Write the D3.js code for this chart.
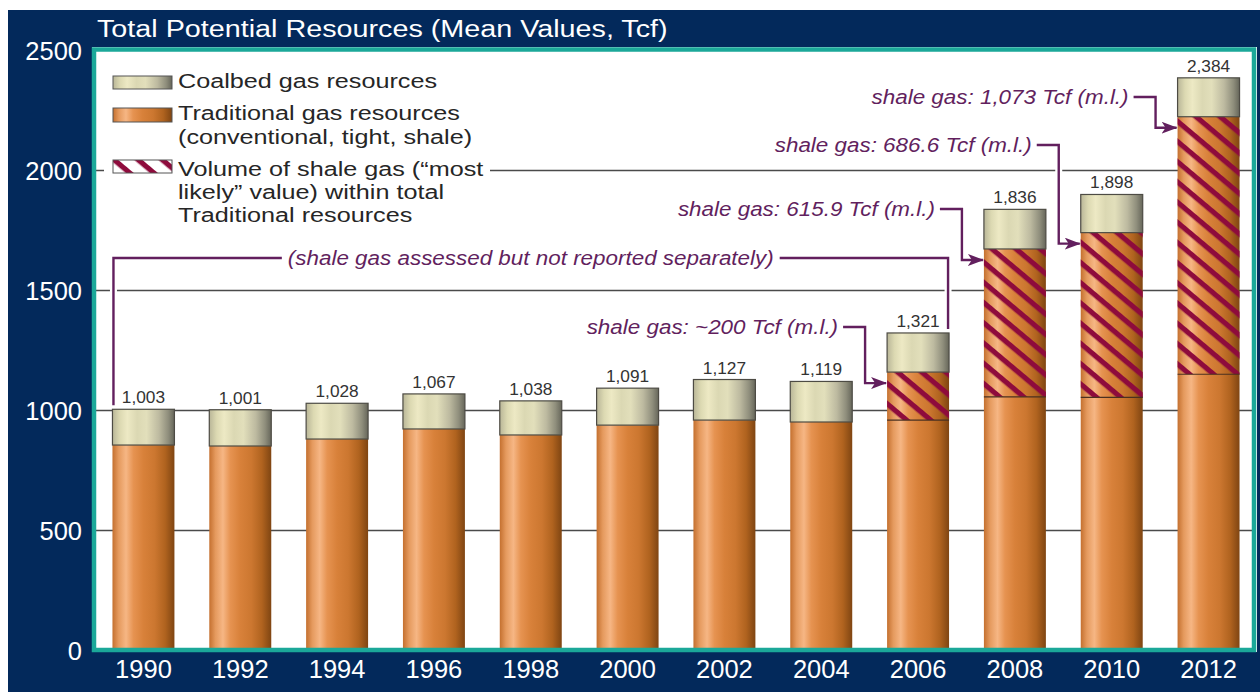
<!DOCTYPE html>
<html>
<head>
<meta charset="utf-8">
<script src="https://cdn.jsdelivr.net/npm/d3@7"></script>
<style>
  html, body { margin: 0; padding: 0; background: #ffffff; }
  svg { display: block; font-family: "Liberation Sans", Arial, Helvetica, sans-serif; }
</style>
</head>
<body>
<script>
// ---------------- data ----------------
const years = ["1990","1992","1994","1996","1998","2000","2002","2004","2006","2008","2010","2012"];
const totalValues = [1003, 1001, 1028, 1067, 1038, 1091, 1127, 1119, 1321, 1836, 1898, 2384];
const traditionalValues = [854, 850, 879, 921, 896, 937, 958, 950, 1158, 1671, 1739, 2222];
const shaleValues = [0, 0, 0, 0, 0, 0, 0, 0, 200, 615.9, 686.6, 1073];
const totalLabels = ["1,003","1,001","1,028","1,067","1,038","1,091","1,127","1,119","1,321","1,836","1,898","2,384"];
const yTickValues = [0, 500, 1000, 1500, 2000, 2500];
const gridValues = [500, 1000, 1500, 2000];
const noteYears = ["2006", "2008", "2010", "2012"];
const noteLabels = ["shale gas: ~200 Tcf (m.l.)", "shale gas: 615.9 Tcf (m.l.)", "shale gas: 686.6 Tcf (m.l.)", "shale gas: 1,073 Tcf (m.l.)"];
const bracketYears = ["1990", "2006"];
const bracketLabel = "(shale gas assessed but not reported separately)";
const legendLabels = [
  ["Coalbed gas resources"],
  ["Traditional gas resources", "(conventional, tight, shale)"],
  ["Volume of shale gas (\u201cmost", "likely\u201d value) within total", "Traditional resources"]
];
const titleText = "Total Potential Resources (Mean Values, Tcf)";

// ---------------- layout ----------------
const W = 1260, H = 692;
const NAVY = "#03295b", TEAL = "#1ba899", PURPLE = "#621f5e", HATCH = "#8e0b3c";
const noteLineY = [327, 209, 145, 97];   // vertical placement of annotation texts
const bracketTopY = 258;

const svg = d3.select("body").append("svg").attr("width", W).attr("height", H);
const defs = svg.append("defs");

// gradients
function hGrad(id, stops) {
  const g = defs.append("linearGradient").attr("id", id).attr("x1", 0).attr("x2", 1).attr("y1", 0).attr("y2", 0);
  stops.forEach(s => g.append("stop").attr("offset", s[0]).attr("stop-color", s[1]));
}
hGrad("copper", [[0, "#c4702f"], [0.1, "#e59a5e"], [0.22, "#f6b684"], [0.34, "#e69351"], [0.5, "#d8813a"], [0.68, "#cc7730"], [0.85, "#b0631f"], [1, "#7f4512"]]);
hGrad("coal", [[0, "#b9b698"], [0.12, "#dcd9b2"], [0.24, "#ede9c4"], [0.4, "#dbd8b3"], [0.55, "#e2dfbb"], [0.75, "#bdbaa0"], [0.9, "#8f8e7c"], [1, "#66665a"]]);

// hatch pattern
const pat = defs.append("pattern").attr("id", "hatch").attr("patternUnits", "userSpaceOnUse")
  .attr("width", 12).attr("height", 15.5).attr("patternTransform", "rotate(40)");
pat.append("rect").attr("x", 0).attr("y", 0).attr("width", 12).attr("height", 5.2).attr("fill", HATCH);

// arrow marker
defs.append("marker").attr("id", "arrow").attr("markerUnits", "userSpaceOnUse")
  .attr("viewBox", "0 0 16 12").attr("markerWidth", 16).attr("markerHeight", 12)
  .attr("refX", 15).attr("refY", 6).attr("orient", "auto")
  .append("path").attr("d", "M0,0 L16,6 L0,12 L4,6 Z").attr("fill", PURPLE);

// stretched text helper
function stext(parent, x, y, str, size, sx, opts = {}) {
  const t = parent.append("text")
    .attr("transform", `translate(${x},${y}) scale(${sx},1)`)
    .attr("font-size", size)
    .attr("font-family", "Liberation Sans, Arial, sans-serif")
    .attr("fill", opts.fill || "#222")
    .attr("text-anchor", opts.anchor || "start")
    .text(str);
  if (opts.italic) t.attr("font-style", "italic");
  return t;
}

// background
svg.append("rect").attr("x", 8).attr("y", 10).attr("width", W - 8).attr("height", H - 10).attr("fill", NAVY);
svg.append("rect").attr("x", 92).attr("y", 47).attr("width", 1165).attr("height", 605).attr("fill", "#fff");

// scales
const x = d3.scaleBand().domain(years).range([96, 1256]).paddingInner(0.36).paddingOuter(0.17);
const y = d3.scaleLinear().domain([0, 2500]).range([650, 50]);
const bw = x.bandwidth();

// gridlines
const grid = svg.append("g").attr("transform", "translate(1252,0)")
  .call(d3.axisLeft(y).tickValues(gridValues).tickSize(1156).tickFormat(""));
grid.select(".domain").remove();
grid.selectAll("line").attr("stroke", "#4a4a4a").attr("stroke-width", 1.4);

// legend background (hides gridline)
svg.append("rect").attr("x", 104).attr("y", 60).attr("width", 386).attr("height", 170).attr("fill", "#fff");

// bars
const rows = years.map((yr, i) => ({
  yr, total: totalValues[i], trad: traditionalValues[i], shale: shaleValues[i], label: totalLabels[i]
}));
const bars = svg.append("g").selectAll("g").data(rows).join("g");

bars.append("rect")
  .attr("x", d => x(d.yr)).attr("width", bw)
  .attr("y", d => y(d.trad)).attr("height", d => y(0) - y(d.trad))
  .attr("fill", "url(#copper)");

bars.filter(d => d.shale > 0).append("rect")
  .attr("x", d => x(d.yr)).attr("width", bw)
  .attr("y", d => y(d.trad)).attr("height", d => y(d.trad - d.shale) - y(d.trad))
  .attr("fill", "url(#hatch)");
bars.filter(d => d.shale > 0).append("line")
  .attr("x1", d => x(d.yr)).attr("x2", d => x(d.yr) + bw)
  .attr("y1", d => y(d.trad - d.shale)).attr("y2", d => y(d.trad - d.shale))
  .attr("stroke", "#4a3020").attr("stroke-width", 1.2);

bars.append("rect")
  .attr("x", d => x(d.yr)).attr("width", bw)
  .attr("y", d => y(d.total)).attr("height", d => y(d.trad) - y(d.total))
  .attr("fill", "url(#coal)").attr("stroke", "#4d4b44").attr("stroke-width", 1.2);

bars.each(function(d) {
  stext(d3.select(this), x(d.yr) + bw / 2, y(d.total) - 6, d.label, 16, 1.08, { anchor: "middle", fill: "#333" });
});

// annotations (purple arrows)
const ann = svg.append("g");
noteYears.forEach((yr, i) => {
  const i2 = years.indexOf(yr);
  const left = x(yr);
  const elbow = left - 22;
  const start = elbow - 22;
  const ty = y(traditionalValues[i2]) + 11;
  const ly = noteLineY[i];
  const p = `M${start},${ly} H${elbow} V${ty} H${left - 1}`;
  ann.append("path").attr("d", p).attr("fill", "none").attr("stroke", "#fff").attr("stroke-width", 7);
  ann.append("path").attr("d", p).attr("fill", "none").attr("stroke", PURPLE).attr("stroke-width", 2.4)
    .attr("marker-end", "url(#arrow)");
  stext(ann, start - 5, ly + 7, noteLabels[i], 19.5, 1.15, { anchor: "end", fill: PURPLE, italic: true });
});

// bracket
{
  const bi0 = years.indexOf(bracketYears[0]), bi1 = years.indexOf(bracketYears[1]);
  const lx = x(bracketYears[0]) + 1;
  const rx = x(bracketYears[1]) + bw - 1;
  const ly0 = y(totalValues[bi0]) - 4;
  const ry0 = y(totalValues[bi1]) - 4;
  const cx = (lx + rx) / 2;
  const t = stext(ann, cx, bracketTopY + 7, bracketLabel, 19.5, 1.15, { anchor: "middle", fill: PURPLE, italic: true });
  const tw = t.node().getComputedTextLength() * 1.15;
  const p = `M${lx},${ly0} V${bracketTopY} H${cx - tw / 2 - 6} M${cx + tw / 2 + 6},${bracketTopY} H${rx} V${ry0}`;
  ann.insert("path", "text").attr("d", p).attr("fill", "none").attr("stroke", "#fff").attr("stroke-width", 7);
  ann.append("path").attr("d", p).attr("fill", "none").attr("stroke", PURPLE).attr("stroke-width", 2.4);
}

// legend
const lg = svg.append("g");
const swX = 113, swW = 59;
const swY = [76, 108, 160], swH = [13, 14, 13];
const swFill = ["url(#coal)", "url(#copper)", null];
const lineBase = [[88], [120, 144], [176, 199, 222]];
legendLabels.forEach((lines, i) => {
  if (swFill[i]) {
    lg.append("rect").attr("x", swX).attr("y", swY[i]).attr("width", swW).attr("height", swH[i])
      .attr("fill", swFill[i]).attr("stroke", "#555").attr("stroke-width", 1);
  } else {
    lg.append("rect").attr("x", swX).attr("y", swY[i]).attr("width", swW).attr("height", swH[i]).attr("fill", "#fff");
    lg.append("rect").attr("x", swX).attr("y", swY[i]).attr("width", swW).attr("height", swH[i])
      .attr("fill", "url(#hatch)").attr("stroke", "#555").attr("stroke-width", 1);
  }
  lines.forEach((s, j) => stext(lg, 178, lineBase[i][j], s, 21, 1.2, { fill: "#262626" }));
});

// teal frame
svg.append("rect").attr("x", 94).attr("y", 49.5).attr("width", 1160).attr("height", 600.5)
  .attr("fill", "none").attr("stroke", TEAL).attr("stroke-width", 4.5);

// axes
const ya = svg.append("g").attr("transform", "translate(82,0)")
  .call(d3.axisLeft(y).tickValues(yTickValues).tickSize(0).tickPadding(0).tickFormat(d3.format("d")));
ya.select(".domain").remove();
ya.selectAll("text").attr("fill", "#fff").attr("font-size", 25.5)
  .attr("font-family", "Liberation Sans, Arial, sans-serif").attr("dy", "0.36em");

const xa = svg.append("g").attr("transform", "translate(0,652)")
  .call(d3.axisBottom(x).tickSize(0).tickPadding(8));
xa.select(".domain").remove();
xa.selectAll("text").attr("fill", "#fff").attr("font-size", 25.5)
  .attr("font-family", "Liberation Sans, Arial, sans-serif");

// title
stext(svg, 97, 37, titleText, 23, 1.25, { fill: "#fff" });
</script>
</body>
</html>
